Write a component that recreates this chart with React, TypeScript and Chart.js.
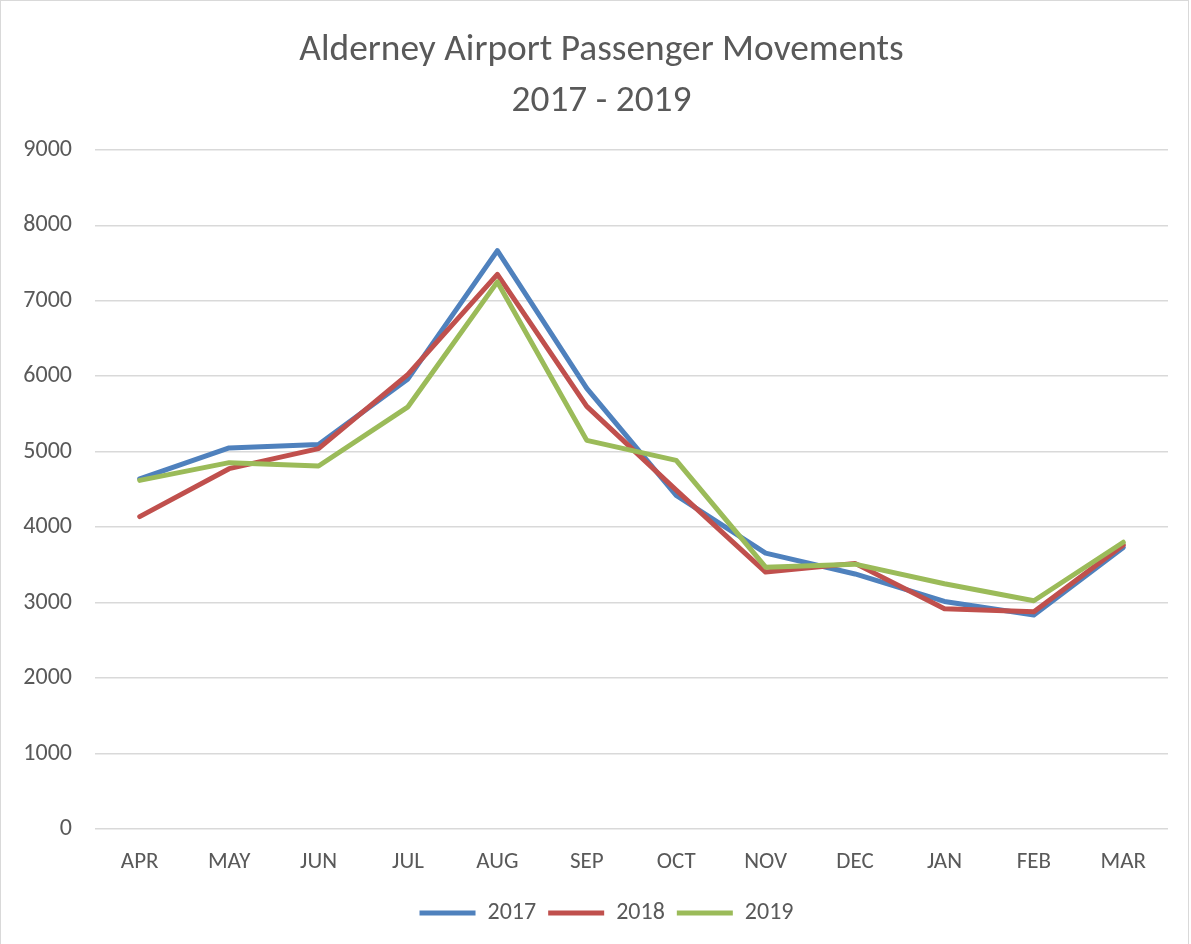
import React, { useEffect, useRef } from 'react';
import { Chart, registerables } from 'chart.js';

Chart.register(...registerables);

const categories = ['APR', 'MAY', 'JUN', 'JUL', 'AUG', 'SEP', 'OCT', 'NOV', 'DEC', 'JAN', 'FEB', 'MAR'];
const seriesNames = ['2017', '2018', '2019'];
const values2017 = [4640, 5050, 5095, 5965, 7665, 5840, 4420, 3655, 3380, 3015, 2835, 3730];
const values2018 = [4140, 4775, 5040, 6025, 7350, 5600, 4490, 3405, 3520, 2920, 2880, 3765];
const values2019 = [4620, 4855, 4810, 5595, 7250, 5150, 4885, 3470, 3510, 3250, 3025, 3800];
const seriesColors = ['#4F81BD', '#C0504D', '#9BBB59'];
const titleLines = ['Alderney Airport Passenger Movements', '2017 - 2019'];
const yMin = 0;
const yMax = 9000;
const yStep = 1000;

const FONT = 'Carlito, "Open Sans", "Noto Sans", sans-serif';
const TEXT = '#595959';

export default function App() {
  const ref = useRef<HTMLCanvasElement | null>(null);

  useEffect(() => {
    document.body.style.margin = '0';
    const canvas = ref.current;
    if (!canvas) return;
    const framePlugin = {
      id: 'frame',
      afterLayout(chart: any) {
        if (chart.titleBlock) chart.titleBlock.left = 35;
        if (chart.legend) chart.legend.left = 45;
      },
      beforeDraw(chart: any) {
        const ctx = chart.ctx;
        ctx.save();
        ctx.fillStyle = '#ffffff';
        ctx.fillRect(0, 0, chart.width, chart.height);
        ctx.strokeStyle = '#d9d9d9';
        ctx.lineWidth = 1;
        ctx.strokeRect(0.5, 0.5, chart.width - 3, chart.height + 5);
        ctx.restore();
      },
    };
    const allValues = [values2017, values2018, values2019];
    const chart = new Chart(canvas, {
      type: 'line',
      data: {
        labels: categories,
        datasets: seriesNames.map((name, i) => ({
          label: name,
          data: allValues[i],
          borderColor: seriesColors[i],
          backgroundColor: seriesColors[i],
          borderWidth: 5,
          pointRadius: 0,
          pointHoverRadius: 0,
          tension: 0,
          borderCapStyle: 'round' as const,
          borderJoinStyle: 'round' as const,
          order: 2 - i,
          fill: false,
        })),
      },
      options: {
        responsive: false,
        animation: false,
        devicePixelRatio: 1,
        layout: { padding: { left: 0, right: 23, top: 0, bottom: 9 } },
        plugins: {
          title: {
            display: true,
            text: titleLines,
            color: TEXT,
            font: { family: FONT, size: 37.4, weight: 'normal', lineHeight: 1.375 },
            padding: { top: 25, bottom: 22 },
          },
          legend: {
            display: true,
            position: 'bottom',
            labels: {
              color: TEXT,
              font: { family: FONT, size: 24 },
              boxWidth: 56,
              boxHeight: 5,
              padding: 12,
              usePointStyle: true,
              pointStyle: 'line',
              pointStyleWidth: 56,
              sort: (a: any, b: any) => a.datasetIndex - b.datasetIndex,
            },
          },
          tooltip: { enabled: false },
        },
        scales: {
          x: {
            offset: true,
            grid: { display: false, drawTicks: false },
            border: { display: false },
            ticks: { color: TEXT, font: { family: FONT, size: 23 }, padding: 19, maxRotation: 0 },
            afterFit(scale: any) {
              scale.height = 60;
            },
          },
          y: {
            min: yMin,
            max: yMax,
            ticks: {
              stepSize: yStep,
              color: TEXT,
              font: { family: FONT, size: 24 },
              padding: 23,
              callback: (v: any) => String(v),
            },
            grid: { color: '#d9d9d9', lineWidth: 1.5, drawTicks: false },
            border: { display: false },
            afterFit(scale: any) {
              scale.width = 95;
            },
          },
        },
      },
      plugins: [framePlugin],
    });
    return () => chart.destroy();
  }, []);

  return (
    <div style={{ width: 1191, height: 944 }}>
      <canvas ref={ref} width={1191} height={944} style={{ display: 'block' }} />
    </div>
  );
}
